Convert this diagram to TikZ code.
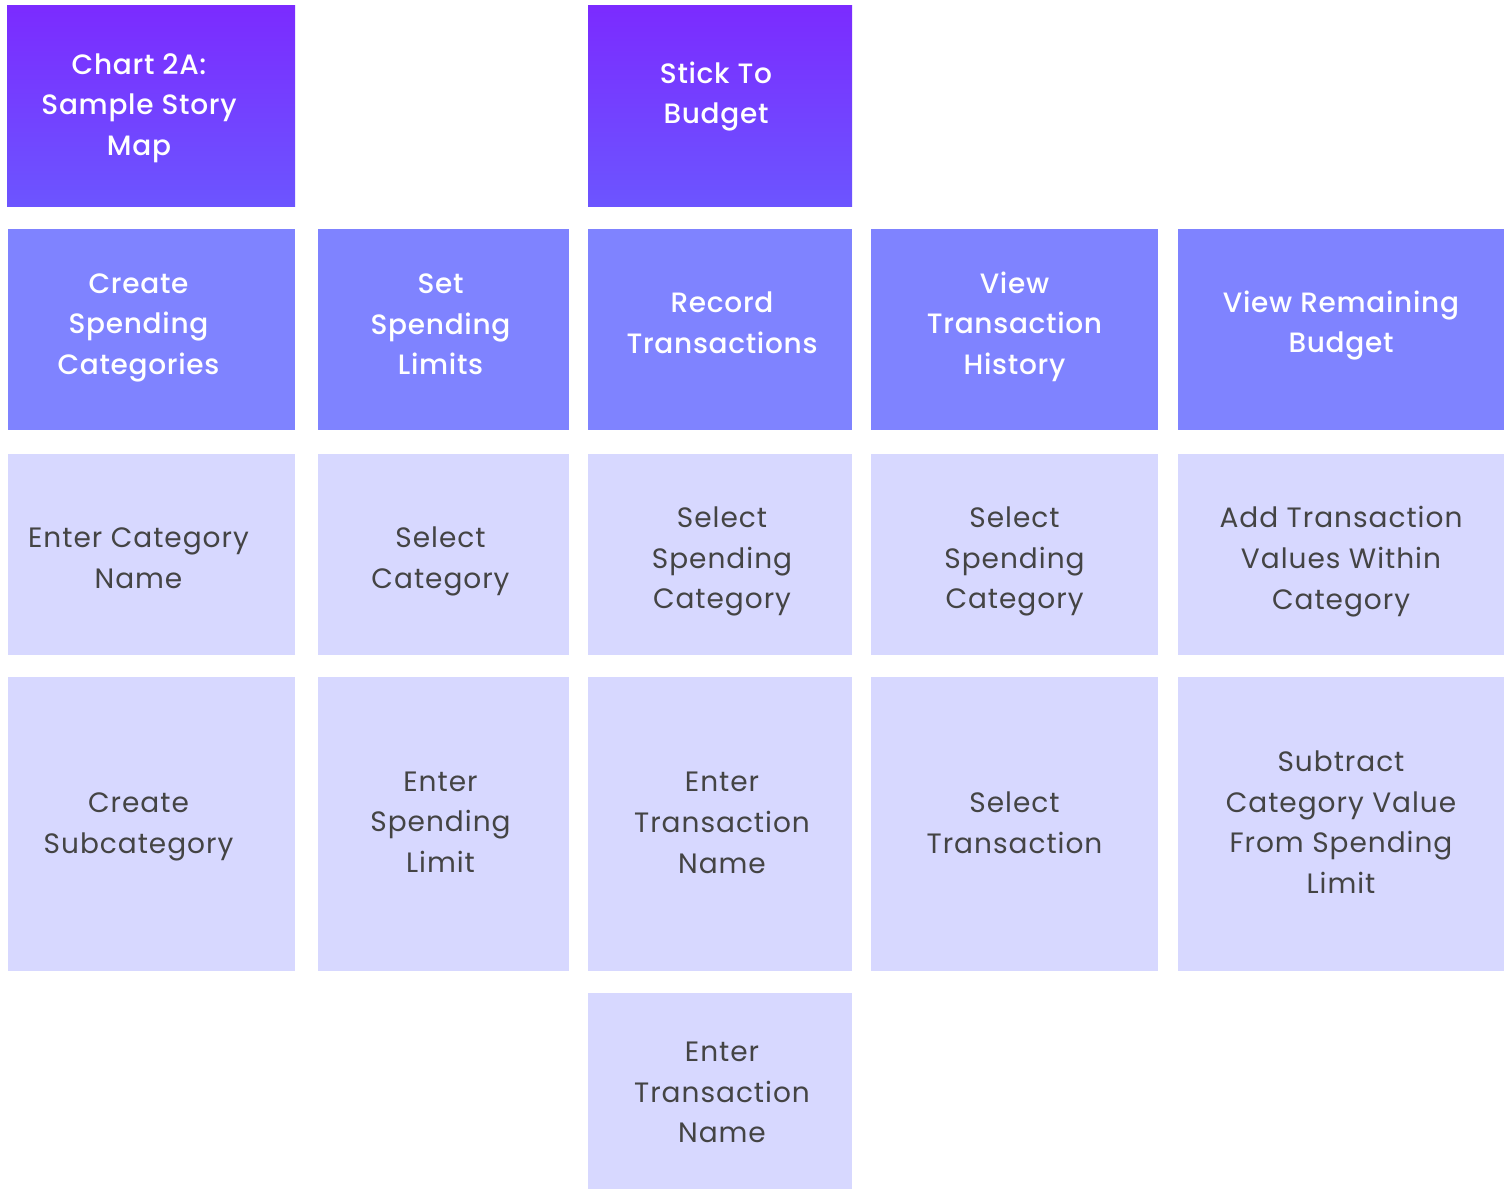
\documentclass[tikz,border=0pt]{standalone}
\usepackage{fontspec}
\setmainfont{Poppins}[LetterSpace=3.5]
\newfontfamily\headfont{Poppins Medium}[LetterSpace=2.5]
\definecolor{topA}{HTML}{7B2BFF}
\definecolor{topB}{HTML}{6C55FF}
\definecolor{actC}{HTML}{7F83FF}
\definecolor{stepC}{HTML}{D7D8FF}
\definecolor{txtC}{HTML}{444444}
\begin{document}
\begin{tikzpicture}[x=1pt,y=-1pt,
  cell/.style 2 args={rectangle, inner sep=0pt, outer sep=0pt, minimum width=#1pt, minimum height=#2pt},
  goal/.style={cell={#1}{201}, top color=topA, bottom color=topB, draw=none},
  activity/.style={cell={#1}{201}, fill=actC},
  storystep/.style={cell={#1}{201}, fill=stepC},
  tallstep/.style={cell={#1}{294}, fill=stepC},
  lowstep/.style={cell={#1}{196}, fill=stepC},
  headtxt/.style={align=center, inner sep=0pt, text=white, font=\headfont\fontsize{28}{40.5}\selectfont},
  steptxt/.style={align=center, inner sep=0pt, text=txtC, font=\fontsize{28}{40.7}\selectfont}]
\useasboundingbox (0,0) rectangle (1510,1189);
% top row
\node[goal=288] (title) at (151,105.5) {};
\node[goal=264] (goal) at (720,105.5) {};
% activities
\node[activity=287] (a1) at (151.5,329.5) {};
\node[activity=251] (a2) at (443.5,329.5) {};
\node[activity=264] (a3) at (720,329.5) {};
\node[activity=287] (a4) at (1014.5,329.5) {};
\node[activity=326] (a5) at (1341,329.5) {};
% steps row 1
\node[storystep=287] (s11) at (151.5,554.5) {};
\node[storystep=251] (s21) at (443.5,554.5) {};
\node[storystep=264] (s31) at (720,554.5) {};
\node[storystep=287] (s41) at (1014.5,554.5) {};
\node[storystep=326] (s51) at (1341,554.5) {};
% steps row 2
\node[tallstep=287] (s12) at (151.5,824) {};
\node[tallstep=251] (s22) at (443.5,824) {};
\node[tallstep=264] (s32) at (720,824) {};
\node[tallstep=287] (s42) at (1014.5,824) {};
\node[tallstep=326] (s52) at (1341,824) {};
% steps row 3
\node[lowstep=264] (s33) at (720,1091) {};
% texts
\node[headtxt] (titleT) at ([shift={(-12,2.5)}]title.center) {Chart 2A:\\Sample Story\\Map};
\node[headtxt] (goalT) at ([shift={(-4,-9)}]goal.center) {Stick To\\Budget};
\node[headtxt] (a1T) at ([shift={(-13,-2)}]a1.center) {Create\\Spending\\Categories};
\node[headtxt] (a2T) at ([shift={(-3,-5)}]a2.center) {Set\\Spending\\Limits};
\node[headtxt] (a3T) at ([shift={(2,-6.5)}]a3.center) {Record\\Transactions};
\node[headtxt] (a4T) at ([shift={(0,-3)}]a4.center) {View\\Transaction\\History};
\node[headtxt] (a5T) at ([shift={(0,-4)}]a5.center) {View Remaining\\Budget};
\node[steptxt] (s11T) at ([shift={(-13,4)}]s11.center) {Enter Category\\Name};
\node[steptxt] (s21T) at ([shift={(-3,7)}]s21.center) {Select\\Category};
\node[steptxt] (s31T) at ([shift={(2,7)}]s31.center) {Select\\Spending\\Category};
\node[steptxt] (s41T) at ([shift={(0,7)}]s41.center) {Select\\Spending\\Category};
\node[steptxt] (s51T) at ([shift={(0,7)}]s51.center) {Add Transaction\\Values Within\\Category};
\node[steptxt] (s12T) at ([shift={(-13,3)}]s12.center) {Create\\Subcategory};
\node[steptxt] (s22T) at ([shift={(-3,-2)}]s22.center) {Enter\\Spending\\Limit};
\node[steptxt] (s32T) at ([shift={(2,-1)}]s32.center) {Enter\\Transaction\\Name};
\node[steptxt] (s42T) at ([shift={(0,-1)}]s42.center) {Select\\Transaction};
\node[steptxt] (s52T) at ([shift={(0,-2)}]s52.center) {Subtract\\Category Value\\From Spending\\Limit};
\node[steptxt] (s33T) at ([shift={(2,1.5)}]s33.center) {Enter\\Transaction\\Name};
\end{tikzpicture}
\end{document}
